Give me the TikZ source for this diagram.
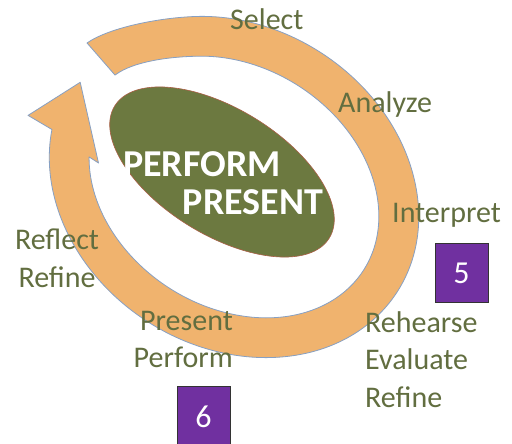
\documentclass[tikz,border=0pt]{standalone}
\usepackage{fontspec}
\setmainfont{Carlito}

\definecolor{ringorange}{RGB}{240,179,110}
\definecolor{ringedge}{RGB}{135,160,195}
\definecolor{coregreen}{RGB}{108,121,64}
\definecolor{coreedge}{RGB}{170,95,70}
\definecolor{steptext}{RGB}{98,110,64}
\definecolor{stagepurple}{RGB}{112,48,160}

\begin{document}
\begin{tikzpicture}[x=1pt, y=1pt,
    steplabel/.style={font=\fontsize{30}{37.5}\selectfont, text=steptext, inner sep=0pt},
    core/.style={font=\fontsize{38}{40}\selectfont\bfseries, text=white, inner sep=0pt},
    stagebox/.style={rectangle, draw=black!80, line width=1pt, fill=stagepurple, text=white,
        minimum width=53pt, minimum height=59pt, font=\fontsize{32}{34}\selectfont}
]
\useasboundingbox[fill=white] (0,0) rectangle (512,444);

% Cycle arrow
\begin{scope}[shift={(234,257)}, rotate=-32.7]
\filldraw[fill=ringorange, draw=ringedge, line width=0.8pt, line join=round]
  (-201.5,41.8) .. controls (-191,67) and (-154.4,102) .. (130:194 and 160)
  arc[start angle=130, end angle=-161.8, x radius=194, y radius=160]
  -- (-212,-51) -- (-186,5) -- (-127,-53) -- (-138.2,-53)
  arc[start angle=-153.8, end angle=130, x radius=154, y radius=120]
  .. controls (-122.6,76.5) and (-152.6,51.9) .. (-160.6,29.9) -- cycle;
\end{scope}

% Centre
\filldraw[fill=coregreen, draw=coreedge, line width=0.6pt, rotate around={-31.6:(222,272)}]
  (222,272) ellipse [x radius=126, y radius=63];
\node[core, anchor=base] (coreperform) at (202,267) {PERFORM};
\node[core, anchor=base] (corepresent) at (253,229) {PRESENT};

% Steps
\node[steplabel, anchor=base west] (select) at (230,414) {Select};
\node[steplabel, anchor=base west] (analyze) at (338,331) {Analyze};
\node[steplabel, anchor=base west] (interpret) at (392,221) {Interpret};
\node[steplabel, align=left, anchor=north west] (rehearse) at (365,133) {Rehearse\\Evaluate\\Refine};
\node[steplabel, align=right, anchor=north east] (perform) at (233,133) {Present\\Perform};
\node[steplabel, align=center, anchor=north] (reflect) at (57,215) {Reflect\\Refine};

% Stage numbers
\node[stagebox] (stage5) at (461.5,170.5) {5};
\node[stagebox] (stage6) at (203.5,27.5) {6};

\end{tikzpicture}
\end{document}
